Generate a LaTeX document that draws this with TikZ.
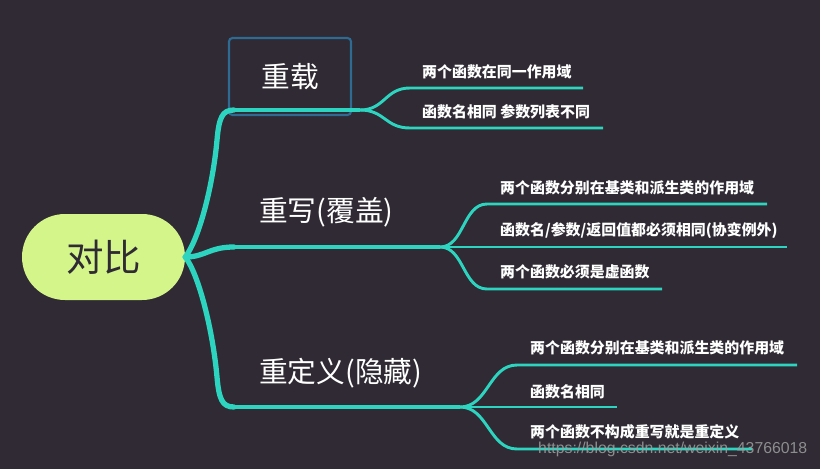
\documentclass[tikz,border=0pt]{standalone}
\usepackage{fontspec}
\newfontfamily\cjk{Noto Sans CJK SC}
\newfontfamily\wmfont{Liberation Sans}
\usetikzlibrary{shapes.misc,positioning}
\definecolor{bgdark}{HTML}{2F2A33}
\definecolor{branchcol}{HTML}{2DD4BF}
\definecolor{rootfill}{HTML}{D4F58A}
\definecolor{boxblue}{HTML}{2E6A92}
\tikzset{
  rootnode/.style={rounded rectangle,fill=rootfill,minimum width=4.89cm,
    minimum height=2.58cm,inner sep=0pt,text=bgdark,
    font=\cjk\fontsize{32}{36}\selectfont},
  topic/.style={text=white,inner sep=0pt,font=\cjk\fontsize{24.5}{28}\selectfont},
  selbox/.style={draw=boxblue,line width=1.8pt,rounded corners=3pt,
    minimum width=3.66cm,minimum height=2.31cm},
  leaf/.style={anchor=west,text=white,inner sep=0pt,
    font=\cjk\bfseries\fontsize{12.75}{15}\selectfont},
  mainbr/.style={branchcol,line width=4.5pt,line cap=round},
  mainln/.style={branchcol,line width=3pt},
  subbr/.style={branchcol,line width=2.5pt},
  wmark/.style={anchor=west,inner sep=0pt,text=gray!75,opacity=0.85,
    font=\wmfont\fontsize{13.5}{16}\selectfont},
}
\begin{document}
\begin{tikzpicture}[x=0.03cm,y=-0.03cm]
  \fill[bgdark] (0,0) rectangle (820,469);
  \useasboundingbox (0,0) rectangle (820,469);
  \node[rootnode] (root) at (103.5,257) {对比};
  \node[topic,selbox] (t1) at (290,76.5) {重载};
  \node[topic,anchor=west] (t2) at (259,212) {重写(覆盖)};
  \node[topic,anchor=west] (t3) at (259,373) {重定义(隐藏)};
  \coordinate (m1) at (234,110); \coordinate (f1) at (360,110);
  \coordinate (m2) at (234,247); \coordinate (f2) at (440,247);
  \coordinate (m3) at (234,407); \coordinate (f3) at (460,407);
  \coordinate (k1) at (217,140); \coordinate (k3) at (217,377);
  \coordinate (a11) at (410,88);  \coordinate (b11) at (583,88);
  \coordinate (a12) at (410,128); \coordinate (b12) at (603,128);
  \coordinate (a21) at (487,204); \coordinate (b21) at (767,204);
  \coordinate (b22) at (787,247);
  \coordinate (a23) at (487,289); \coordinate (b23) at (662,289);
  \coordinate (a31) at (517,365); \coordinate (b31) at (797,365);
  \coordinate (b32) at (617,407);
  \coordinate (a33) at (517,449); \coordinate (b33) at (752,449);
  \draw[mainbr] (root.east) .. controls +(14,-18) and +(-4,45) .. (k1)
    .. controls +(2,-22) and +(-12,0) .. (m1);
  \draw[mainbr] (root.east) .. controls +(20,0) and +(-25,0) .. (m2);
  \draw[mainbr] (root.east) .. controls +(14,18) and +(-4,-45) .. (k3)
    .. controls +(2,22) and +(-12,0) .. (m3);
  \draw[mainln] (m1) -- (f1);
  \draw[mainln] (m2) -- (f2);
  \draw[mainln] (m3) -- (f3);
  \draw[subbr] (f1) .. controls +(25,0) and +(-25,0) .. (a11) -- (b11);
  \draw[subbr] (f1) .. controls +(25,0) and +(-25,0) .. (a12) -- (b12);
  \draw[subbr] (f2) .. controls +(24,0) and +(-24,0) .. (a21) -- (b21);
  \draw[subbr] (f2) -- (b22);
  \draw[subbr] (f2) .. controls +(24,0) and +(-24,0) .. (a23) -- (b23);
  \draw[subbr] (f3) .. controls +(28,0) and +(-28,0) .. (a31) -- (b31);
  \draw[subbr] (f3) -- (b32);
  \draw[subbr] (f3) .. controls +(28,0) and +(-28,0) .. (a33) -- (b33);
  \node[leaf] (l11) at (422,72) {两个函数在同一作用域};
  \node[leaf] (l12) at (422,112) {函数名相同 参数列表不同};
  \node[leaf] (l21) at (500,188) {两个函数分别在基类和派生类的作用域};
  \node[leaf] (l22) at (500,231) {函数名/参数/返回值都必须相同(协变例外)};
  \node[leaf] (l23) at (500,272) {两个函数必须是虚函数};
  \node[leaf] (l31) at (530,348) {两个函数分别在基类和派生类的作用域};
  \node[leaf] (l32) at (530,392) {函数名相同};
  \node[leaf] (l33) at (530,432) {两个函数不构成重写就是重定义};
  \node[wmark] (wm) at (538,449) {https://blog.csdn.net/weixin\_43766018};
\end{tikzpicture}
\end{document}
